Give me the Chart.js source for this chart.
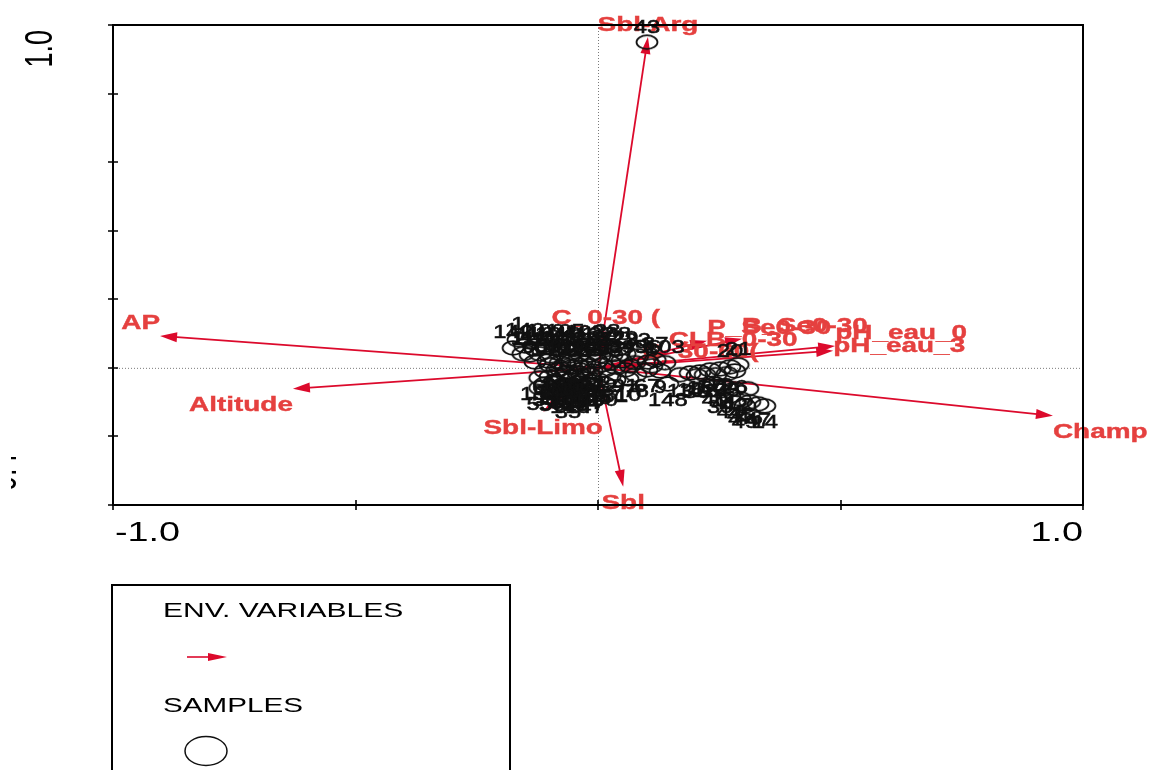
<!DOCTYPE html>
<html>
<head>
<meta charset="utf-8">
<script src="https://cdn.jsdelivr.net/npm/chart.js@4/dist/chart.umd.min.js"></script>
<style>
  html, body { margin: 0; padding: 0; background: #fff; overflow: hidden; }
  #wrap { width: 1153px; height: 770px; position: relative; }
  canvas { display: block; }
</style>
</head>
<body>
<div id="wrap"><canvas id="biplot" width="1153" height="770"></canvas></div>
<script>
// ---- Axis ticks -----------------------------------------------------------
const xTicks = [-1.0, -0.5, 0, 0.5, 1.0];
const xTickLabels = ['-1.0', '', '', '', '1.0'];
const yTicks = [-0.4, -0.2, 0, 0.2, 0.4, 0.6, 0.8, 1.0];
const yTickLabels = ['-0.4', '', '', '', '', '', '', '1.0'];

// ---- Environmental variables (arrow tips, biplot scores) ------------------
const envNames = ['Sbl-Arg', 'AP', 'Altitude', 'Champ', 'Sbl', 'Sbl-Limo',
                  'pH_eau_0', 'pH_eau_3', 'P_Se0-30', 'B_Se0-30', 'CLB_0-30',
                  'C_30-60(', 'C_0-30 ('];
const envX = [0.103, -0.903, -0.629, 0.938, 0.052, -0.113,
              0.489, 0.485, 0.225, 0.297, 0.146, 0.091, 0.016];
const envY = [0.965, 0.093, -0.061, -0.140, -0.347, -0.128,
              0.064, 0.050, 0.079, 0.085, 0.044, 0.009, 0.108];

// ---- Samples (site scores) ------------------------------------------------
const sampleIds = [43, 142, 140, 116, 109, 104, 105, 101, 108, 122, 28, 88,
  110, 111, 120, 121, 125, 126, 115, 31, 32, 29, 33, 87,
  60, 61, 62, 63, 64, 65, 93, 94, 95, 96, 103, 127, 128, 129,
  66, 68, 69, 70, 71, 72, 91, 67, 73, 74, 75, 76, 77, 78, 148, 85,
  50, 51, 52, 53, 54, 55, 56, 57, 58, 35, 80, 81, 132, 133, 134,
  135, 136, 137, 138, 139, 141, 143, 144, 145, 146, 147, 149, 150,
  5, 6, 7, 8, 9, 10, 11, 1,
  13, 15, 16, 17, 19, 20, 21, 24, 25, 26, 30, 18, 40, 41, 42, 2, 39,
  44, 45, 46, 47, 49, 4, 14];
const sampleX = [0.101, -0.175, -0.151, -0.130, -0.109, -0.089, -0.068, -0.047, -0.027, -0.006, 0.019, 0.041,
  -0.140, -0.120, -0.099, -0.078, -0.058, -0.037, -0.016, 0.004, 0.029, 0.056, 0.082, 0.118,
  -0.130, -0.103, -0.078, -0.054, -0.027, -0.002, 0.025, 0.049, 0.076, 0.103, 0.138, -0.068, -0.041, -0.016,
  -0.109, -0.085, -0.062, -0.037, -0.012, 0.014, 0.056, 0.101, -0.099, -0.074, -0.049, -0.025, 0.025, 0.078, 0.144, 0.000,
  -0.109, -0.087, -0.066, -0.043, -0.021, -0.120, -0.095, -0.072, -0.047, -0.062, 0.014, 0.035, -0.058, -0.033, -0.082,
  -0.078, -0.054, -0.029, -0.066, -0.041, -0.016, -0.089, -0.037, -0.012, -0.058, -0.027, -0.099, -0.120,
  0.008, 0.035, 0.066, 0.111, 0.128, 0.062, -0.155, -0.165,
  0.169, 0.190, 0.210, 0.231, 0.252, 0.272, 0.289, 0.243, 0.266, 0.282, 0.204, 0.221, 0.241, 0.262, 0.282, 0.309, 0.252,
  0.272, 0.293, 0.313, 0.330, 0.303, 0.282, 0.344];
const sampleY = [0.950, 0.058, 0.064, 0.055, 0.061, 0.055, 0.061, 0.055, 0.058, 0.055, 0.061, 0.055,
  0.038, 0.041, 0.035, 0.041, 0.035, 0.041, 0.038, 0.035, 0.038, 0.041, 0.035, 0.023,
  0.017, 0.020, 0.015, 0.020, 0.015, 0.020, 0.015, 0.020, 0.015, 0.017, 0.015, 0.009, 0.009, 0.006,
  -0.009, -0.006, -0.012, -0.006, -0.009, -0.006, -0.006, -0.006, -0.026, -0.032, -0.026, -0.032, -0.026, -0.020, -0.047, -0.035,
  -0.047, -0.044, -0.050, -0.044, -0.050, -0.058, -0.061, -0.055, -0.061, -0.082, -0.047, -0.035, -0.035, -0.023, -0.020,
  -0.003, 0.003, -0.001, -0.017, -0.015, -0.020, -0.038, -0.055, -0.041, -0.067, -0.067, 0.009, -0.029,
  0.009, 0.003, 0.006, 0.006, -0.009, -0.032, 0.041, 0.082,
  -0.020, -0.015, -0.012, -0.006, -0.003, 0.003, 0.009, -0.020, -0.017, -0.009, -0.023, -0.020, -0.047, -0.055, -0.061, -0.061, -0.067,
  -0.082, -0.090, -0.099, -0.105, -0.111, -0.102, -0.111];

// ---- Styling ----------------------------------------------------------------
const FONT = '"Liberation Sans", Arial, Helvetica, sans-serif';
const ARROW_RED = '#dc0a2c';
const LABEL_RED = '#e5403f';
const INK = '#111111';

// Hollow elliptical marker used for the sample points
const ring = document.createElement('canvas');
ring.width = 26; ring.height = 18;
(function () {
  const c = ring.getContext('2d');
  c.strokeStyle = INK; c.lineWidth = 1.8;
  c.beginPath(); c.ellipse(13, 9, 10.5, 6.8, 0, 0, Math.PI * 2); c.stroke();
})();

// Horizontally widened text (the biplot uses broad lettering)
function wideText(ctx, s, x, y, font, sx, align, color, heavy) {
  ctx.save();
  ctx.translate(x, y);
  ctx.scale(sx, 1);
  ctx.font = font;
  ctx.fillStyle = color;
  ctx.textAlign = align;
  ctx.textBaseline = 'alphabetic';
  ctx.fillText(s, 0, 0);
  if (heavy) {
    ctx.strokeStyle = color;
    ctx.lineWidth = heavy;
    ctx.strokeText(s, 0, 0);
  }
  ctx.restore();
}

function arrow(ctx, x0, y0, x1, y1, color, headLen, headHalf, lw) {
  const a = Math.atan2(y1 - y0, x1 - x0);
  ctx.save();
  ctx.strokeStyle = color; ctx.fillStyle = color; ctx.lineWidth = lw;
  ctx.beginPath();
  ctx.moveTo(x0, y0);
  ctx.lineTo(x1 - Math.cos(a) * headLen * 0.8, y1 - Math.sin(a) * headLen * 0.8);
  ctx.stroke();
  ctx.beginPath();
  ctx.moveTo(x1, y1);
  ctx.lineTo(x1 - Math.cos(a) * headLen - Math.sin(a) * headHalf,
             y1 - Math.sin(a) * headLen + Math.cos(a) * headHalf);
  ctx.lineTo(x1 - Math.cos(a) * headLen + Math.sin(a) * headHalf,
             y1 - Math.sin(a) * headLen - Math.cos(a) * headHalf);
  ctx.closePath();
  ctx.fill();
  ctx.restore();
}

// Small label shifts where two variable names would sit on top of each other
const envLabelNudge = { 'pH_eau_3': [0, 8] };

const biplotPlugin = {
  id: 'biplot',
  beforeDatasetsDraw(chart) {
    const { ctx, chartArea: a, scales: { x, y } } = chart;
    const ox = x.getPixelForValue(0), oy = y.getPixelForValue(0);

    // zero reference lines
    ctx.save();
    ctx.strokeStyle = '#7a7a7a';
    ctx.lineWidth = 1;
    ctx.setLineDash([1, 2]);
    ctx.beginPath();
    ctx.moveTo(ox + 0.5, a.top); ctx.lineTo(ox + 0.5, a.bottom);
    ctx.moveTo(a.left, oy + 0.5); ctx.lineTo(a.right, oy + 0.5);
    ctx.stroke();
    ctx.restore();

    // environmental variable arrows
    envNames.forEach((n, i) => {
      const tx = x.getPixelForValue(envX[i]), ty = y.getPixelForValue(envY[i]);
      arrow(ctx, ox, oy, tx, ty, ARROW_RED, 17, 5, 1.8);
    });
    // their names
    envNames.forEach((n, i) => {
      const tx = x.getPixelForValue(envX[i]), ty = y.getPixelForValue(envY[i]);
      const dx = tx - ox, dy = ty - oy;
      const align = Math.abs(dx) < 1.5 * Math.abs(dy) ? 'center' : (dx > 0 ? 'left' : 'right');
      const cy = dy < 0 ? ty - 14 : ty + 15;
      const nudge = envLabelNudge[n] || [0, 0];
      wideText(ctx, n, tx + nudge[0], cy + 7.5 + nudge[1],
               'bold 21px ' + FONT, 1.33, align, LABEL_RED, 0.4);
    });
  },
  afterDatasetsDraw(chart) {
    const { ctx, chartArea: a, scales: { x, y } } = chart;

    // sample numbers: above the marker in the upper half, below it in the lower half
    sampleIds.forEach((id, i) => {
      const px = x.getPixelForValue(sampleX[i]), py = y.getPixelForValue(sampleY[i]);
      const by = sampleY[i] >= 0 ? py - 9.5 : py + 22.5;
      wideText(ctx, String(id), px, by, '19px ' + FONT, 1.25, 'center', INK, 0.6);
    });

    // frame
    ctx.save();
    ctx.strokeStyle = '#000';
    ctx.lineWidth = 2;
    ctx.strokeRect(a.left, a.top, a.right - a.left, a.bottom - a.top);

    // ticks crossing the left and bottom axes
    ctx.lineWidth = 1.6;
    ctx.beginPath();
    yTicks.forEach(v => {
      const py = Math.round(y.getPixelForValue(v));
      ctx.moveTo(a.left - 5, py); ctx.lineTo(a.left + 5, py);
    });
    xTicks.forEach(v => {
      const px = Math.round(x.getPixelForValue(v));
      ctx.moveTo(px, a.bottom - 5); ctx.lineTo(px, a.bottom + 5);
    });
    ctx.stroke();
    ctx.restore();

    // x tick labels, end labels set inward
    xTicks.forEach((v, i) => {
      if (!xTickLabels[i]) return;
      const px = x.getPixelForValue(v);
      const align = i === 0 ? 'left' : (i === xTicks.length - 1 ? 'right' : 'center');
      wideText(ctx, xTickLabels[i], px + (i === 0 ? 2 : 0), a.bottom + 36,
               '28px ' + FONT, 1.35, align, '#000');
    });

    // y tick labels, rotated, end labels set inward
    yTicks.forEach((v, i) => {
      if (!yTickLabels[i]) return;
      const py = y.getPixelForValue(v);
      const top = i === yTicks.length - 1;
      ctx.save();
      ctx.beginPath(); ctx.rect(11, 0, a.left, chart.height); ctx.clip();
      ctx.translate(top ? 52 : 16, top ? py + 5 : py - 5);
      ctx.rotate(-Math.PI / 2);
      ctx.scale(1, 1.45);
      ctx.font = '27px ' + FONT;
      ctx.fillStyle = '#000';
      ctx.textAlign = top ? 'right' : 'left';
      ctx.textBaseline = 'alphabetic';
      ctx.fillText(yTickLabels[i], 0, 0);
      ctx.restore();
    });

    // legend box
    ctx.save();
    ctx.strokeStyle = '#000';
    ctx.lineWidth = 2;
    ctx.strokeRect(112, 585, 398, 200);
    ctx.restore();
    wideText(ctx, 'ENV. VARIABLES', 163, 617, '21px ' + FONT, 1.43, 'left', '#000');
    arrow(ctx, 187, 657, 227, 657, ARROW_RED, 19, 4, 1.6);
    wideText(ctx, 'SAMPLES', 163, 712, '21px ' + FONT, 1.41, 'left', '#000');
    ctx.save();
    ctx.strokeStyle = INK; ctx.lineWidth = 1.5;
    ctx.beginPath(); ctx.ellipse(206, 751, 21, 14.5, 0, 0, Math.PI * 2); ctx.stroke();
    ctx.restore();
  }
};

new Chart(document.getElementById('biplot'), {
  type: 'scatter',
  data: {
    datasets: [{
      label: 'SAMPLES',
      data: sampleIds.map((id, i) => ({ x: sampleX[i], y: sampleY[i] })),
      pointStyle: ring,
      pointRadius: 9,
      pointHoverRadius: 9,
      backgroundColor: 'rgba(0,0,0,0)',
      borderColor: INK
    }]
  },
  options: {
    responsive: false,
    devicePixelRatio: 1,
    animation: false,
    layout: { padding: { left: 113, right: 70, top: 25, bottom: 265 } },
    plugins: { legend: { display: false }, tooltip: { enabled: false } },
    scales: {
      x: { type: 'linear', min: -1.0, max: 1.0, display: false },
      y: { type: 'linear', min: -0.4, max: 1.0, display: false }
    }
  },
  plugins: [biplotPlugin]
});
</script>
</body>
</html>
